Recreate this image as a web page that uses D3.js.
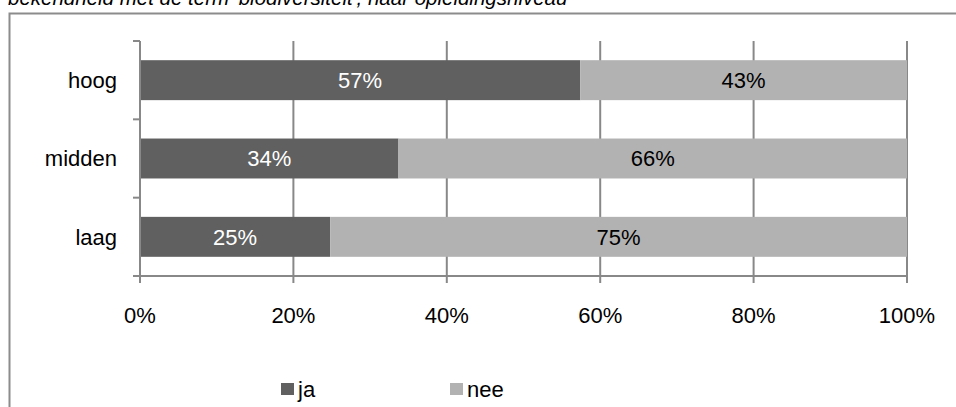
<!DOCTYPE html>
<html><head><meta charset="utf-8">
<script src="https://cdn.jsdelivr.net/npm/d3@7"></script>
<style>body{margin:0;background:#fff;}svg{display:block;}</style>
</head><body>
<svg id="c" width="956" height="407"></svg>
<script>
const categories = ["hoog", "midden", "laag"];
const seriesNames = ["ja", "nee"];
const ja = [57.4, 33.7, 24.8];
const nee = [42.6, 66.3, 75.2];
const xTicks = [0, 20, 40, 60, 80, 100];
const title = "bekendheid met de term 'biodiversiteit', naar opleidingsniveau";
const colors = ["#606060", "#b2b2b2"];
const labelColors = ["#ffffff", "#000000"];

const svg = d3.select("#c");
const font = "'Liberation Sans', Arial, sans-serif";

// outer border
svg.append("rect").attr("x", 9.5).attr("y", 13.5).attr("width", 1000).attr("height", 500)
  .attr("fill", "none").attr("stroke", "#8c8c8c").attr("stroke-width", 2);

// title (partially cut off at top, as in the original)
svg.append("text").attr("x", 8).attr("y", 5).attr("font-family", font).attr("font-style", "italic")
  .attr("font-size", 20.5).attr("fill", "#000").text(title);

const x = d3.scaleLinear().domain([0, 100]).range([140, 907]);
const y = d3.scaleBand().domain(categories).range([41, 276]).paddingInner(0.49).paddingOuter(0.245);

const grid = "#888888";
// vertical gridlines + ticks
svg.append("g").selectAll("line").data(xTicks).join("line")
  .attr("x1", d => x(d)).attr("x2", d => x(d)).attr("y1", 41).attr("y2", 283)
  .attr("stroke", grid).attr("stroke-width", 2);

// stacked bars
const rows = categories.map((c, i) => ({cat: c, vals: [ja[i], nee[i]]}));
const g = svg.append("g");
rows.forEach(r => {
  let acc = 0;
  r.vals.forEach((v, k) => {
    const x0 = x(acc), x1 = x(acc + v);
    g.append("rect").attr("x", x0).attr("y", y(r.cat)).attr("width", x1 - x0).attr("height", y.bandwidth())
      .attr("fill", colors[k]);
    g.append("text").attr("x", (x0 + x1) / 2).attr("y", y(r.cat) + y.bandwidth() / 2).attr("dy", "0.36em")
      .attr("text-anchor", "middle").attr("font-family", font).attr("font-size", 22)
      .attr("fill", labelColors[k]).text(Math.round(v) + "%");
    acc += v;
  });
});

// category axis line and ticks
svg.append("line").attr("x1", 140).attr("x2", 140).attr("y1", 41).attr("y2", 276).attr("stroke", grid).attr("stroke-width", 2);
const catTicks = [y.range()[0]].concat(categories.map(c => y(c) + y.bandwidth() / 2 + y.step() / 2));
svg.append("g").selectAll("line").data(catTicks).join("line")
  .attr("x1", 133).attr("x2", 140).attr("y1", d => d).attr("y2", d => d)
  .attr("stroke", grid).attr("stroke-width", 2);
// x axis baseline
svg.append("line").attr("x1", 133).attr("x2", 908).attr("y1", 276).attr("y2", 276).attr("stroke", grid).attr("stroke-width", 2);

// category labels
svg.append("g").selectAll("text").data(categories).join("text")
  .attr("x", 117).attr("y", d => y(d) + y.bandwidth() / 2).attr("dy", "0.36em")
  .attr("text-anchor", "end").attr("font-family", font).attr("font-size", 22).attr("fill", "#000").text(d => d);

// x tick labels
svg.append("g").selectAll("text").data(xTicks).join("text")
  .attr("x", d => x(d)).attr("y", 323).attr("text-anchor", "middle")
  .attr("font-family", font).attr("font-size", 22).attr("fill", "#000").text(d => d + "%");

// legend
const legX = [281, 450];
seriesNames.forEach((s, k) => {
  svg.append("rect").attr("x", legX[k]).attr("y", 383).attr("width", 13).attr("height", 12).attr("fill", colors[k]);
  svg.append("text").attr("x", legX[k] + 17).attr("y", 397).attr("font-family", font).attr("font-size", 22)
    .attr("fill", "#000").text(s);
});
</script>
</body></html>
